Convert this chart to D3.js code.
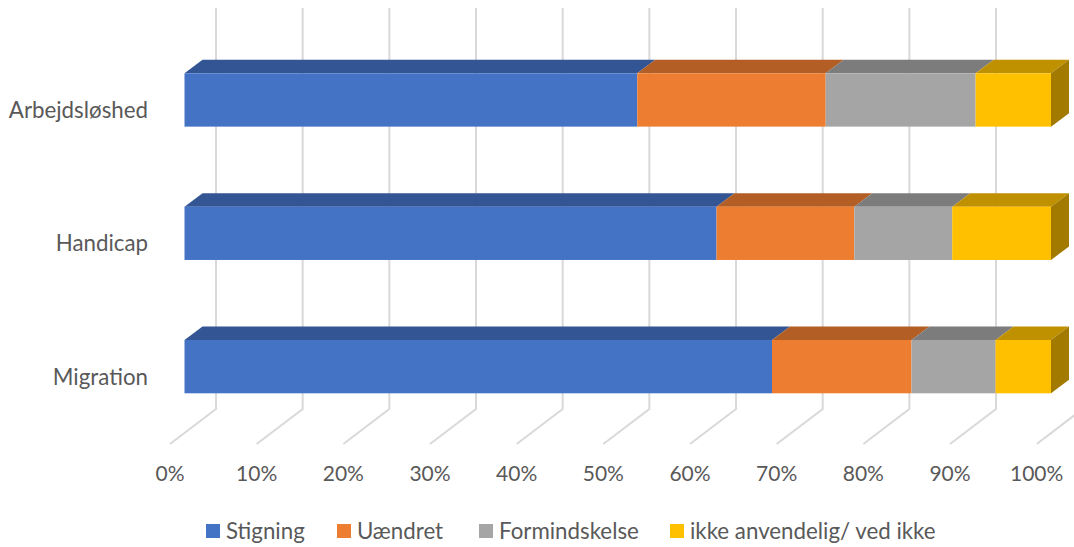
<!DOCTYPE html>
<html>
<head>
<meta charset="utf-8">
<script src="https://cdn.jsdelivr.net/npm/d3@7"></script>
<style>
  html, body { margin: 0; padding: 0; background: #fff; }
  svg { display: block; }
  text { font-family: Lato, "Open Sans", sans-serif; fill: #595959; }
</style>
</head>
<body>
<div id="chart"></div>
<script>
var categories = ["Arbejdsløshed", "Handicap", "Migration"];
var seriesNames = ["Stigning", "Uændret", "Formindskelse", "ikke anvendelig/ ved ikke"];
var stigning = [52.25, 61.4, 67.8];
var uaendret = [21.75, 15.9, 16.1];
var formindskelse = [17.3, 11.3, 9.7];
var ikkeAnvendelig = [8.7, 11.4, 6.4];
var tickValues = [0, 10, 20, 30, 40, 50, 60, 70, 80, 90, 100];

var frontColors = ["#4472c4", "#ed7d31", "#a5a5a5", "#ffc000"];
var topColors = ["#335593", "#b25e24", "#7c7c7c", "#bf9000"];
var sideColor = "#a27a00";

var width = 1074, height = 547;

var svg = d3.select("#chart").append("svg")
    .attr("width", width)
    .attr("height", height);

// 3 planes of the fake 3d box: back wall, bar front, floor front
var xBack = d3.scaleLinear().domain([0, 100]).range([216, 1082.7]);
var xBar = d3.scaleLinear().domain([0, 100]).range([184.5, 1051]);
var xFloor = d3.scaleLinear().domain([0, 100]).range([170, 1036.7]);
var y = d3.scaleBand().domain(categories).range([33.3, 433.3]).paddingInner(0.6).paddingOuter(0.3);

var depthX = 18, depthY = 13.5;
var gridTop = 8, gridBottom = 409, floorBottom = 444;

// gridlines
var grid = svg.append("g");
grid.selectAll("path").data(tickValues).enter().append("path")
    .attr("d", function(d) {
        return d3.line()([[xBack(d), gridTop], [xBack(d), gridBottom], [xFloor(d), floorBottom]]);
    })
    .attr("fill", "none")
    .attr("stroke", "#d9d9d9")
    .attr("stroke-width", 2);

// tick labels
svg.append("g").selectAll("text").data(tickValues).enter().append("text")
    .attr("x", function(d) { return xFloor(d); })
    .attr("y", 481)
    .attr("text-anchor", "middle")
    .attr("font-size", 21)
    .text(function(d) { return d + "%"; });

// stacked bars
var rows = categories.map(function(c, i) {
    return { category: c, values: [stigning[i], uaendret[i], formindskelse[i], ikkeAnvendelig[i]] };
});
var stackGen = d3.stack().keys([0, 1, 2, 3]).value(function(r, k) { return r.values[k]; });
var stacked = stackGen(rows);

stacked.forEach(function(layer, k) {
    var g = svg.append("g");
    g.selectAll("path.top").data(layer).enter().append("path")
        .attr("class", "top")
        .attr("fill", topColors[k])
        .attr("d", function(d) {
            var t = y(d.data.category), a = xBar(d[0]), b = xBar(d[1]);
            return d3.line()([[a, t], [a + depthX, t - depthY], [b + depthX, t - depthY], [b, t]]) + "Z";
        });
    g.selectAll("rect").data(layer).enter().append("rect")
        .attr("x", function(d) { return xBar(d[0]); })
        .attr("y", function(d) { return y(d.data.category); })
        .attr("width", function(d) { return xBar(d[1]) - xBar(d[0]); })
        .attr("height", y.bandwidth())
        .attr("fill", frontColors[k]);
});

// right end of each bar
svg.append("g").selectAll("path").data(stacked[3]).enter().append("path")
    .attr("fill", sideColor)
    .attr("d", function(d) {
        var t = y(d.data.category), b = xBar(d[1]), h = y.bandwidth();
        return d3.line()([[b, t], [b + depthX, t - depthY], [b + depthX, t + h - depthY], [b, t + h]]) + "Z";
    });

// category labels
svg.append("g").selectAll("text").data(categories).enter().append("text")
    .attr("x", 148)
    .attr("y", function(d) { return y(d) + y.bandwidth() / 2 + 18; })
    .attr("text-anchor", "end")
    .attr("font-size", 22.3)
    .text(function(d) { return d; });

// legend
var legendX = [206, 337, 479, 670];
var legend = svg.append("g").selectAll("g").data(seriesNames).enter().append("g")
    .attr("transform", function(d, i) { return "translate(" + legendX[i] + ",524)"; });
legend.append("rect")
    .attr("width", 14)
    .attr("height", 14)
    .attr("fill", function(d, i) { return frontColors[i]; });
legend.append("text")
    .attr("x", 20)
    .attr("y", 15)
    .attr("font-size", 22.3)
    .text(function(d) { return d; });
</script>
</body>
</html>
